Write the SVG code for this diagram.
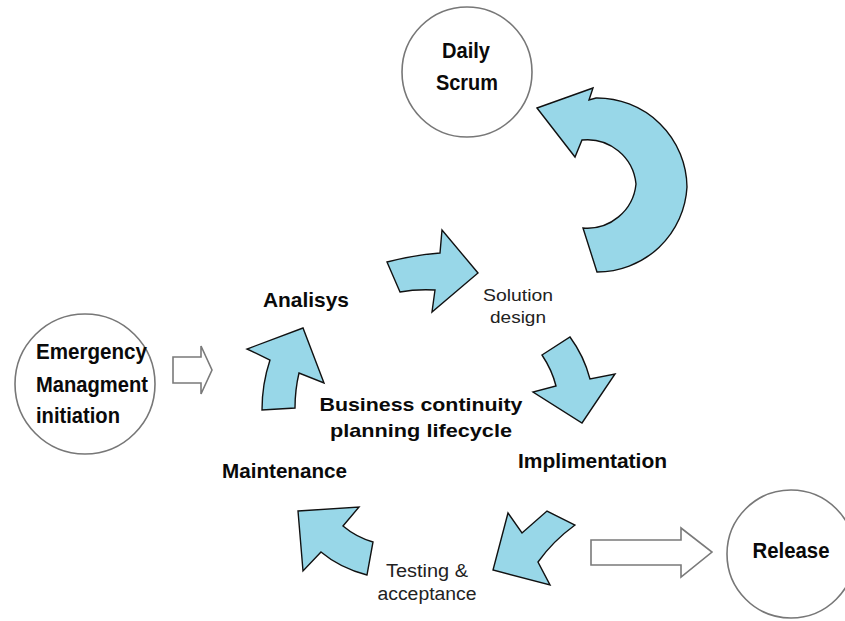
<svg xmlns="http://www.w3.org/2000/svg" width="845" height="621" viewBox="0 0 845 621">
<style>
.bg{fill:#ffffff}
.circ{fill:#ffffff;stroke:#777777;stroke-width:1.6}
.blue{fill:#98d7e8;stroke:#111111;stroke-width:1.4;stroke-linejoin:miter}
.hollow{fill:#ffffff;stroke:#7a7a7a;stroke-width:1.6}
.lb{font-family:"Liberation Sans",Arial,sans-serif;font-weight:bold;fill:#0a0a0a}
.lr{font-family:"Liberation Sans",Arial,sans-serif;font-weight:normal;fill:#222222}
</style>
<rect class="bg" x="0" y="0" width="845" height="621"/>

<g id="daily-scrum">
<circle class="circ" cx="467" cy="72" r="65"/>
<text class="lb" x="466" y="58" font-size="22" text-anchor="middle" textLength="48" lengthAdjust="spacingAndGlyphs">Daily</text>
<text class="lb" x="467" y="90" font-size="22" text-anchor="middle" textLength="62" lengthAdjust="spacingAndGlyphs">Scrum</text>
</g>

<g id="emergency">
<circle class="circ" cx="85" cy="384" r="70"/>
<text class="lb" x="36" y="359" font-size="22" textLength="111" lengthAdjust="spacingAndGlyphs">Emergency</text>
<text class="lb" x="36" y="392" font-size="22" textLength="112" lengthAdjust="spacingAndGlyphs">Managment</text>
<text class="lb" x="36" y="423" font-size="22" textLength="84" lengthAdjust="spacingAndGlyphs">initiation</text>
</g>

<g id="release">
<circle class="circ" cx="791" cy="554" r="64"/>
<text class="lb" x="791" y="558" font-size="22" text-anchor="middle" textLength="77" lengthAdjust="spacingAndGlyphs">Release</text>
</g>

<g id="analisys">
<text class="lb" x="263" y="307" font-size="21" textLength="86" lengthAdjust="spacingAndGlyphs">Analisys</text>
</g>

<g id="solution-design">
<text class="lr" x="518" y="301" font-size="17" text-anchor="middle" textLength="70" lengthAdjust="spacingAndGlyphs">Solution</text>
<text class="lr" x="518" y="323" font-size="17" text-anchor="middle" textLength="56" lengthAdjust="spacingAndGlyphs">design</text>
</g>

<g id="implimentation">
<text class="lb" x="518" y="468" font-size="21" textLength="149" lengthAdjust="spacingAndGlyphs">Implimentation</text>
</g>

<g id="testing">
<text class="lr" x="427" y="577" font-size="18" text-anchor="middle" textLength="82" lengthAdjust="spacingAndGlyphs">Testing &amp;</text>
<text class="lr" x="427" y="600" font-size="18" text-anchor="middle" textLength="99" lengthAdjust="spacingAndGlyphs">acceptance</text>
</g>

<g id="maintenance">
<text class="lb" x="222" y="478" font-size="21" textLength="125" lengthAdjust="spacingAndGlyphs">Maintenance</text>
</g>

<g id="center-title">
<text class="lb" x="421" y="411" font-size="19" text-anchor="middle" textLength="203" lengthAdjust="spacingAndGlyphs">Business continuity</text>
<text class="lb" x="421" y="437" font-size="19" text-anchor="middle" textLength="182" lengthAdjust="spacingAndGlyphs">planning lifecycle</text>
</g>

<g id="connectors">
<path class="blue" d="M537,108 L593,88 L589,100 L596,98 A90,90 0 0 1 687,187 A90,90 0 0 1 597,272 L583,228 A49,49 0 0 0 636,184 A49,49 0 0 0 582,140 L575,157 Z"/>
<path class="blue" d="M387,262 Q414,255 440,253 L442,230 L478,273 L432,312 L435,290 Q416,289 400,292 Z"/>
<path class="blue" d="M542,355 L570,337 Q584,356 590,379 L615,374 L582,423 L533,392 L556,386 Q552,370 542,355 Z"/>
<path class="blue" d="M508,513 L522,533 L547,511 L575,525 Q553,541 538,562 L550,585 L493,570 Z"/>
<path class="blue" d="M298,511 L359,507 L343,526 Q356,537 373,542 L367,575 Q340,568 321,552 L303,571 Z"/>
<path class="blue" d="M303,328 L247,349 L270,360 Q262,384 262,410 L295,408 Q295,390 299,373 L324,383 Z"/>
<path class="hollow" d="M173,357 L201,357 L201,346 L212,370 L201,394 L201,383 L173,383 Z"/>
<path class="hollow" d="M591,540 L681,540 L681,528 L712,552 L681,577 L681,565 L591,565 Z"/>
</g>
</svg>
